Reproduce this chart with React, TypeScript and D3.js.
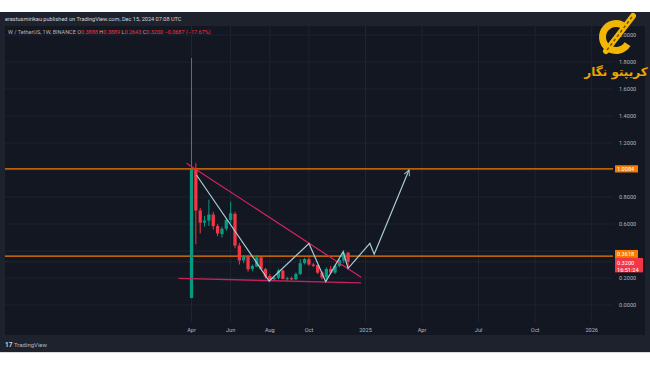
import { useEffect } from 'react';
import * as d3 from 'd3';

// weekly W/USDT candles (Binance)
const weeks = [
  '2024-04-01', '2024-04-08', '2024-04-15', '2024-04-22', '2024-04-29', '2024-05-06',
  '2024-05-13', '2024-05-20', '2024-05-27', '2024-06-03', '2024-06-10', '2024-06-17',
  '2024-06-24', '2024-07-01', '2024-07-08', '2024-07-15', '2024-07-22', '2024-07-29',
  '2024-08-05', '2024-08-12', '2024-08-19', '2024-08-26', '2024-09-02', '2024-09-09',
  '2024-09-16', '2024-09-23', '2024-09-30', '2024-10-07', '2024-10-14', '2024-10-21',
  '2024-10-28', '2024-11-04', '2024-11-11', '2024-11-18', '2024-11-25', '2024-12-02',
  '2024-12-09',
];
const opens = [
  0.052, 1.005, 0.7, 0.61, 0.625, 0.67, 0.585, 0.525, 0.565, 0.63, 0.675, 0.44, 0.33,
  0.36, 0.267, 0.285, 0.353, 0.267, 0.215, 0.19, 0.2, 0.255, 0.193, 0.198, 0.19, 0.23,
  0.31, 0.34, 0.3, 0.296, 0.24, 0.205, 0.267, 0.24, 0.289, 0.33, 0.3888,
];
const highs = [
  1.83, 1.05, 0.72, 0.66, 0.78, 0.69, 0.6, 0.58, 0.64, 0.765, 0.69, 0.46, 0.37, 0.37,
  0.3, 0.37, 0.36, 0.275, 0.23, 0.21, 0.27, 0.26, 0.21, 0.21, 0.24, 0.34, 0.35, 0.36,
  0.31, 0.3, 0.25, 0.28, 0.29, 0.3, 0.35, 0.407, 0.3889,
];
const lows = [
  0.05, 0.45, 0.53, 0.58, 0.585, 0.56, 0.51, 0.5, 0.55, 0.61, 0.42, 0.3, 0.31, 0.247,
  0.25, 0.28, 0.26, 0.195, 0.17, 0.18, 0.19, 0.19, 0.18, 0.185, 0.185, 0.22, 0.3, 0.29,
  0.28, 0.23, 0.19, 0.19, 0.23, 0.23, 0.28, 0.31, 0.2643,
];
const closes = [
  1.005, 0.7, 0.61, 0.625, 0.67, 0.585, 0.53, 0.565, 0.63, 0.68, 0.44, 0.33, 0.36, 0.265,
  0.29, 0.353, 0.267, 0.21, 0.19, 0.2, 0.255, 0.193, 0.198, 0.19, 0.23, 0.31, 0.34, 0.3,
  0.29, 0.24, 0.205, 0.267, 0.24, 0.289, 0.333, 0.383, 0.32,
];

// drawings
const pathDates = [
  '2024-04-09', '2024-08-04', '2024-10-07', '2024-11-03', '2024-12-01', '2024-12-09',
  '2025-01-13', '2025-01-20', '2025-03-17',
];
const pathValues = [0.963, 0.178, 0.456, 0.173, 0.395, 0.272, 0.456, 0.376, 1.0];
const trendDates = ['2024-03-24', '2024-12-30'];
const trendValues = [1.05, 0.205];
const supportDates = ['2024-03-11', '2024-12-30'];
const supportValues = [0.197, 0.164];
const levels = [1.0084, 0.3618];
const lastPrice = 0.32;

// 1.0000 and 0.4000 sit under the price boxes, so they are not shown
const priceTicks = [0, 0.2, 0.6, 0.8, 1.2, 1.4, 1.6, 1.8, 2.0];
const gridTicks = [0, 0.2, 0.4, 0.6, 0.8, 1.0, 1.2, 1.4, 1.6, 1.8, 2.0];
const timeTickDates = [
  '2024-04-01', '2024-06-03', '2024-08-05', '2024-10-07', '2025-01-06', '2025-04-07',
  '2025-07-07', '2025-10-06', '2026-01-05',
];
const timeTickLabels = ['Apr', 'Jun', 'Aug', 'Oct', '2025', 'Apr', 'Jul', 'Oct', '2026'];

const parse = d3.utcParse('%Y-%m-%d');
const GREEN = '#089981';
const RED = '#f23645';
const ORANGE = '#f57c00';
const FONT = "Roboto, 'DejaVu Sans', sans-serif";

export default function App() {
  useEffect(() => {
    document.body.style.margin = '0';
    document.body.style.background = '#ffffff';
  }, []);

  const width = 650;
  const height = 365;
  const panel = { left: 5, top: 26, right: 645, bottom: 335 };
  const plotRight = 613;
  const plotBottom = 322;

  const x = d3
    .scaleTime()
    .domain([parse('2024-04-01')!, parse('2026-01-05')!])
    .range([191.5, 591.7]);
  const y = d3.scaleLinear().domain([0, 2]).range([305, 35]);

  const bodyW = 3.3;

  const line = d3
    .line<[string, number]>()
    .x((d) => x(parse(d[0])!))
    .y((d) => y(d[1]));

  const zig = d3.zip(pathDates, pathValues) as [string, number][];
  const trend = d3.zip(trendDates, trendValues) as [string, number][];
  const support = d3.zip(supportDates, supportValues) as [string, number][];

  const cArc = d3
    .arc()
    .innerRadius(10)
    .outerRadius(17)
    .startAngle(Math.PI / 2 + 0.55)
    .endAngle(Math.PI * 2 + Math.PI / 2 - 0.75);

  return (
    <svg width={width} height={height} style={{ display: 'block' }}>
      <defs>
        <marker id="arrow" viewBox="0 0 10 10" refX="9" refY="5" markerWidth="7" markerHeight="7" orient="auto-start-reverse" markerUnits="userSpaceOnUse">
          <path d="M1,1 L9,5 L1,9" fill="none" stroke="#a7cdd8" strokeWidth="1.3" />
        </marker>
        <clipPath id="plot">
          <rect x={panel.left} y={panel.top} width={plotRight - panel.left} height={plotBottom - panel.top} />
        </clipPath>
      </defs>

      {/* frame */}
      <rect x={0} y={12} width={width} height={340} fill="#1e222d" />
      <rect x={panel.left} y={panel.top} width={panel.right - panel.left} height={panel.bottom - panel.top} fill="#131722" />

      <text x={5} y={21} fontFamily={FONT} fontSize={5.6} fill="#d1d4dc">
        erastusmirikau published on TradingView.com, Dec 15, 2024 07:08 UTC
      </text>
      <text x={8} y={34} fontFamily={FONT} fontSize={5.5} fill="#b2b5be">
        <tspan>W / TetherUS, 1W, BINANCE  O</tspan>
        <tspan fill={RED}>0.3888</tspan>
        <tspan>  H</tspan>
        <tspan fill={RED}>0.3889</tspan>
        <tspan>  L</tspan>
        <tspan fill={RED}>0.2643</tspan>
        <tspan>  C</tspan>
        <tspan fill={RED}>0.3200</tspan>
        <tspan fill={RED}>  −0.0687 (−17.67%)</tspan>
      </text>

      {/* grid */}
      <g stroke="#1f2332" strokeWidth={1}>
        {gridTicks.map((t) => (
          <line key={t} x1={panel.left} x2={plotRight} y1={y(t)} y2={y(t)} />
        ))}
        {timeTickDates.map((d) => (
          <line key={d} x1={x(parse(d)!)} x2={x(parse(d)!)} y1={panel.top} y2={plotBottom} />
        ))}
      </g>

      <g clipPath="url(#plot)">
        {/* last price line */}
        <line x1={panel.left} x2={plotRight} y1={y(lastPrice)} y2={y(lastPrice)} stroke="#5a1f2b" strokeWidth={1} strokeDasharray="1,1" />

        {/* horizontal levels */}
        {levels.map((v) => (
          <line key={v} x1={panel.left} x2={plotRight} y1={y(v)} y2={y(v)} stroke={ORANGE} strokeWidth={1.3} />
        ))}

        {/* candles */}
        {weeks.map((w, i) => {
          const cx = x(parse(w)!);
          const up = closes[i] >= opens[i];
          const c = up ? GREEN : RED;
          const top = y(Math.max(opens[i], closes[i]));
          const bot = y(Math.min(opens[i], closes[i]));
          return (
            <g key={w}>
              <line x1={cx} x2={cx} y1={y(highs[i])} y2={y(lows[i])} stroke={c} strokeWidth={1} />
              <rect x={cx - bodyW / 2} y={top} width={bodyW} height={Math.max(1, bot - top)} fill={c} />
            </g>
          );
        })}

        {/* drawings */}
        <path d={line(support)!} fill="none" stroke="#c4225a" strokeWidth={1.4} />
        <path d={line(trend)!} fill="none" stroke="#d6245e" strokeWidth={1.2} />
        <path d={line(zig)!} fill="none" stroke="#a7cdd8" strokeWidth={1.2} markerEnd="url(#arrow)" />
      </g>

      {/* price axis */}
      <g fontFamily={FONT} fontSize={5.6} fill="#b2b5be">
        {priceTicks.map((t) => (
          <text key={t} x={619} y={y(t)} dy="0.35em">
            {t.toFixed(4)}
          </text>
        ))}
      </g>
      <g fontFamily={FONT} fontSize={5.6}>
        <rect x={615} y={y(levels[0]) - 3.6} width={23} height={7.2} fill={ORANGE} />
        <text x={617} y={y(levels[0])} dy="0.35em" fill="#ffffff">{levels[0].toFixed(4)}</text>
        <rect x={615} y={y(levels[1]) - 6.2} width={23} height={8} fill={ORANGE} />
        <text x={617} y={y(levels[1]) - 2.2} dy="0.35em" fill="#ffffff">{levels[1].toFixed(4)}</text>
        <rect x={615} y={y(levels[1]) + 1.8} width={28} height={14.4} fill={RED} />
        <text x={617} y={y(lastPrice) + 0.8} dy="0.35em" fill="#ffffff">{lastPrice.toFixed(4)}</text>
        <text x={617} y={y(lastPrice) + 7.8} dy="0.35em" fill="#ffffff">16:51:24</text>
      </g>

      {/* time axis */}
      <g fontFamily={FONT} fontSize={5.6} fill="#b2b5be" textAnchor="middle">
        {timeTickDates.map((d, i) => (
          <text key={d + i} x={x(parse(d)!)} y={331.5}>
            {timeTickLabels[i]}
          </text>
        ))}
      </g>

      {/* footer */}
      <text x={5} y={346.5} fontFamily={FONT} fontSize={6.5} fontWeight="bold" fill="#d1d4dc">17</text>
      <text x={14} y={346.5} fontFamily={FONT} fontSize={6} fill="#b2b5be">TradingView</text>
      <rect x={0} y={352} width={width} height={1} fill="#d9d9d9" />

      {/* logo */}
      <g>
        <path d={cArc({} as any)!} transform="translate(616,37)" fill="#f2b705" />
        <line x1={606} y1={51} x2={633} y2={16} stroke="#f2b705" strokeWidth={6} strokeLinecap="round" />
        <line x1={607} y1={50} x2={632} y2={17} stroke="#7a5200" strokeWidth={1.5} strokeDasharray="3,2.5" />
        <text x={616} y={76} textAnchor="middle" fontFamily="'DejaVu Sans', sans-serif" fontWeight="bold" fontSize={12} fill="#e8a400">
          کریپتو نگار
        </text>
      </g>
    </svg>
  );
}
